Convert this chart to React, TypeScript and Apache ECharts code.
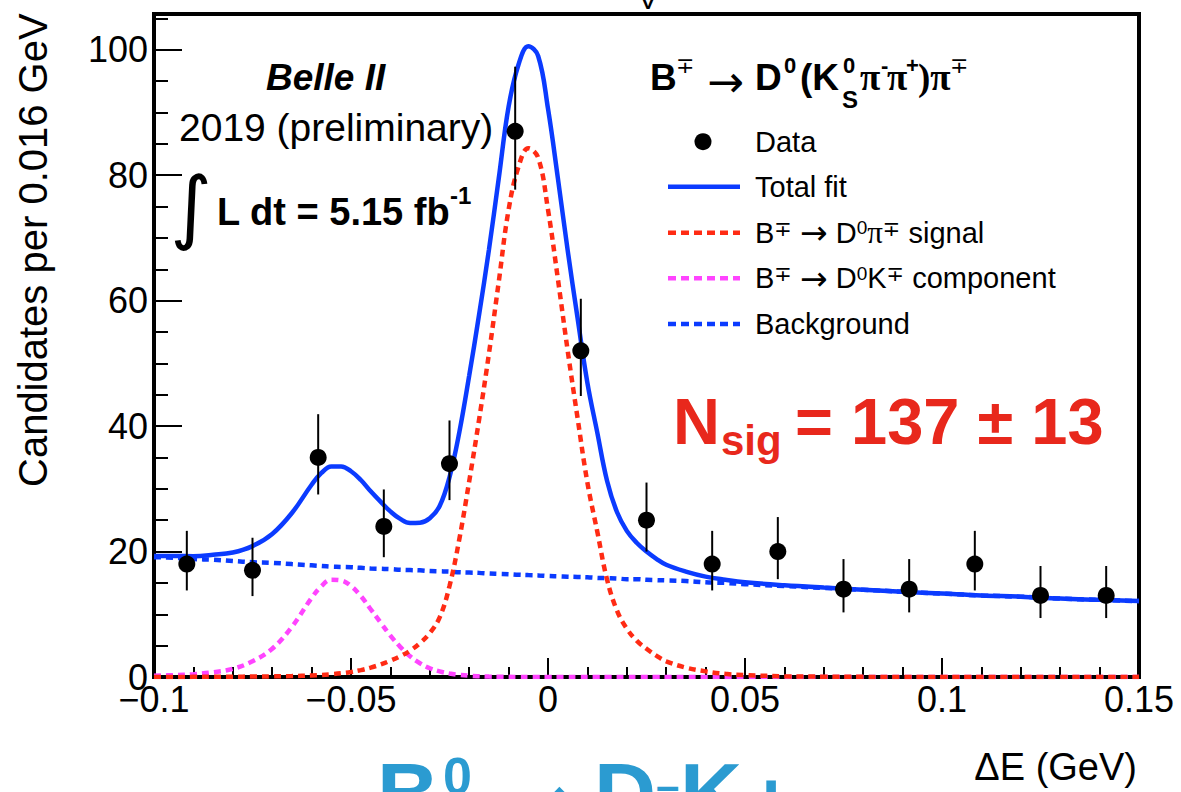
import React, { useEffect, useRef } from "react";
import * as echarts from "echarts";

// ---- measured data (ΔE bins, 15 bins from -0.1 to 0.15 GeV) ----
const binCenters = [
  -0.09167, -0.075, -0.05833, -0.04167, -0.025, -0.00833, 0.00833, 0.025,
  0.04167, 0.05833, 0.075, 0.09167, 0.10833, 0.125, 0.14167,
];
const counts = [18, 17, 35, 24, 34, 87, 52, 25, 18, 20, 14, 14, 18, 13, 13];
const errUp = [5.3, 5.2, 6.9, 5.9, 6.9, 10.3, 8.3, 6.0, 5.3, 5.5, 4.8, 4.8, 5.3, 4.7, 4.7];
const errDown = [4.2, 4.1, 5.9, 4.9, 5.8, 9.3, 7.2, 5.0, 4.2, 4.4, 3.7, 3.7, 4.2, 3.6, 3.6];

// ---- fit components sampled along ΔE ----
const fitX = [
  -0.1, -0.095, -0.09, -0.085, -0.08, -0.075, -0.07, -0.065, -0.06,
  -0.0575, -0.055, -0.0525, -0.05, -0.0475, -0.045, -0.0425, -0.04, -0.0375,
  -0.035, -0.0325, -0.03, -0.0275, -0.025, -0.0225, -0.02, -0.0175, -0.015,
  -0.0125, -0.01, -0.0075, -0.005, -0.0025, 0, 0.0025, 0.005, 0.0075, 0.01,
  0.0125, 0.015, 0.0175, 0.02, 0.0225, 0.025, 0.0275, 0.03,
  0.035, 0.04, 0.045, 0.05,
  0.06, 0.07, 0.08, 0.09, 0.1, 0.11, 0.12, 0.13, 0.14, 0.15,
];
const signalFit = [
  0, 0, 0.02, 0.03, 0.05, 0.07, 0.1, 0.15, 0.25,
  0.33, 0.45, 0.6, 0.8, 1.1, 1.5, 2.0, 2.6, 3.3,
  4.2, 5.4, 7.0, 9.5, 14.5, 22.0, 31.2, 41.0, 51.5,
  63.0, 74.5, 81.3, 84.3, 82.8, 74.5, 63.5, 52.0, 41.3, 31.0,
  23.2, 15.5, 10.6, 7.7, 5.8, 4.5, 3.4, 2.5,
  1.5, 0.9, 0.5, 0.3,
  0.12, 0.05, 0.02, 0, 0, 0, 0, 0, 0, 0,
];
const dkFit = [
  0.2, 0.3, 0.45, 0.75, 1.3, 2.5, 4.5, 8.0, 12.6,
  14.5, 15.5, 15.4, 14.5, 12.9, 10.8, 8.7, 6.6, 4.8,
  3.3, 2.2, 1.4, 0.9, 0.55, 0.35, 0.2, 0.12, 0.07,
  0.04, 0.02, 0.01, 0, 0, 0, 0, 0, 0, 0,
  0, 0, 0, 0, 0, 0, 0, 0,
  0, 0, 0, 0,
  0, 0, 0, 0, 0, 0, 0, 0, 0, 0,
];
const bkgFit = [
  19.1, 19.0, 18.8, 18.7, 18.5, 18.3, 18.2, 18.0, 17.8,
  17.7, 17.6, 17.55, 17.5, 17.4, 17.3, 17.25, 17.2, 17.1,
  17.05, 17.0, 16.9, 16.85, 16.8, 16.7, 16.65, 16.6, 16.5,
  16.45, 16.4, 16.3, 16.25, 16.2, 16.1, 16.05, 16.0, 15.95, 15.9,
  15.8, 15.75, 15.7, 15.6, 15.6, 15.5, 15.45, 15.4,
  15.3, 15.1, 15.0, 14.8,
  14.5, 14.2, 13.9, 13.6, 13.3, 13.0, 12.8, 12.5, 12.3, 12.1,
];

const FONT = "'Liberation Sans', Arial, 'DejaVu Sans', sans-serif";
const SERIF = "'Liberation Serif', 'DejaVu Serif', serif";
const SYM = "'DejaVu Sans', sans-serif";
const BLUE = "#0b3bff";
const RED = "#ff2b14";
const MAGENTA = "#ff44ff";
const NSIG = "#e8281c";
const HEADING = "#2b9bd1";

// text element placed by its alphabetic baseline
function txt(
  x: number,
  base: number,
  text: string,
  size: number,
  o: { bold?: boolean; italic?: boolean; color?: string; align?: string; family?: string } = {}
) {
  return {
    type: "text",
    x,
    y: base - 0.35 * size,
    silent: true,
    z: 100,
    style: {
      text,
      fontSize: size,
      fontFamily: o.family || FONT,
      fontWeight: o.bold ? "bold" : "normal",
      fontStyle: o.italic ? "italic" : "normal",
      fill: o.color || "#000",
      align: o.align || "left",
      verticalAlign: "middle",
    },
  };
}

function richRow(x: number, cy: number, text: string) {
  return {
    type: "text",
    x,
    y: cy,
    silent: true,
    z: 100,
    style: {
      text,
      fontSize: 29,
      lineHeight: 29,
      fontFamily: FONT,
      fill: "#000",
      align: "left",
      verticalAlign: "middle",
      rich: {
        s: { fontSize: 19, lineHeight: 19, verticalAlign: "top", fontFamily: FONT, fill: "#000" },
        a: { fontSize: 33, lineHeight: 29, fontFamily: SYM, fill: "#000" },
        p: { fontSize: 31, lineHeight: 29, fontFamily: SERIF, fill: "#000" },
        ps: { fontSize: 21, lineHeight: 19, verticalAlign: "top", fontFamily: SYM, fill: "#000" },
      },
    },
  };
}

function legendLine(y: number, color: string, dashed: boolean) {
  return {
    type: "line",
    silent: true,
    z: 100,
    shape: { x1: 668, y1: y, x2: 740, y2: y },
    style: { stroke: color, lineWidth: 4.5, lineDash: dashed ? [8, 5] : null, lineCap: "butt" },
  };
}

export default function App() {
  const ref = useRef<HTMLDivElement>(null);

  useEffect(() => {
    if (!ref.current) return;
    const chart = echarts.init(ref.current, undefined, { renderer: "svg" });

    const pairs = (ys: number[]) => fitX.map((x, i) => [x, ys[i]]);
    const totalFit = fitX.map((x, i) => [x, signalFit[i] + dkFit[i] + bkgFit[i]]);

    const fmtX = (v: number) => String(Math.round(v * 1000) / 1000).replace("-", "\u2212");
    const fmtY = (v: number) => (Math.abs(v - Math.round(v / 20) * 20) < 1e-6 ? String(Math.round(v)) : "");

    const graphic: any[] = [
      // y-axis title
      {
        type: "text",
        x: 33,
        y: 487,
        rotation: Math.PI / 2,
        silent: true,
        style: {
          text: "Candidates per 0.016 GeV",
          fontSize: 40,
          fontFamily: FONT,
          fill: "#000",
          align: "left",
          verticalAlign: "middle",
        },
      },
      // x-axis title
      txt(1137, 780, "\u0394E (GeV)", 38, { align: "right" }),
      // text cut off at the top edge
      txt(648, 9, "V", 30, { align: "center" }),

      // experiment labels
      txt(266, 90, "Belle II", 37, { bold: true, italic: true }),
      txt(179, 141, "2019 (preliminary)", 39),
      {
        type: "text",
        x: 191,
        y: 206,
        silent: true,
        style: {
          text: "\u222B",
          fontSize: 80,
          fontFamily: SYM,
          fill: "#000",
          align: "center",
          verticalAlign: "middle",
        },
      },
      txt(217, 225, "L dt = 5.15 fb", 38, { bold: true }),
      txt(450, 204, "-1", 24, { bold: true }),

      // decay title
      txt(650, 90, "B", 37, { bold: true }),
      txt(676, 73, "\u2213", 22, { family: SYM }),
      txt(707, 97, "\u2192", 44, { family: SYM }),
      txt(755, 90, "D", 37, { bold: true }),
      txt(784, 73, "0", 22, { bold: true }),
      txt(800, 90, "(K", 37, { bold: true }),
      txt(843, 73, "0", 22, { bold: true }),
      txt(842, 108, "S", 24, { bold: true }),
      txt(860, 90, "\u03C0", 37, { bold: true, family: SERIF }),
      txt(881, 73, "-", 22, { bold: true }),
      txt(887, 90, "\u03C0", 37, { bold: true, family: SERIF }),
      txt(906, 73, "+", 22, { bold: true }),
      txt(918, 90, ")\u03C0", 37, { bold: true, family: SERIF }),
      txt(950, 73, "\u2213", 22, { family: SYM }),

      // legend
      {
        type: "circle",
        silent: true,
        z: 100,
        shape: { cx: 703, cy: 141.7, r: 8.5 },
        style: { fill: "#000" },
      },
      legendLine(186.7, BLUE, false),
      legendLine(232.7, RED, true),
      legendLine(278.3, MAGENTA, true),
      legendLine(324, BLUE, true),
      richRow(755, 141.7, "Data"),
      richRow(755, 186.7, "Total fit"),
      richRow(755, 232.7, "B{ps|\u2213} {a|\u2192} D{s|0}{p|\u03C0}{ps|\u2213} signal"),
      richRow(755, 278.3, "B{ps|\u2213} {a|\u2192} D{s|0}K{ps|\u2213} component"),
      richRow(755, 324, "Background"),

      // signal yield
      txt(673, 444, "N", 65, { bold: true, color: NSIG }),
      txt(721, 455, "sig", 42, { bold: true, color: NSIG }),
      txt(795, 444, "= 137 \u00B1 13", 65, { bold: true, color: NSIG }),

      // slide heading cut by the bottom edge
      txt(377, 823, "B", 86, { bold: true, color: HEADING }),
      txt(443, 794, "0", 52, { bold: true, color: HEADING }),
      txt(508, 832, "\u2192", 86, { color: HEADING, family: SYM }),
      txt(594, 823, "D", 86, { bold: true, color: HEADING }),
      txt(656, 800, "\u2013", 42, { bold: true, color: HEADING }),
      txt(680, 823, "K", 86, { bold: true, color: HEADING }),
      txt(746, 831, "+", 86, { bold: true, color: HEADING }),
    ];

    const frame = { show: true, onZero: false, lineStyle: { color: "#000", width: 4 } };

    chart.setOption({
      animation: false,
      grid: {
        left: 154,
        top: 14,
        width: 985,
        height: 663,
        show: true,
        borderColor: "#000",
        borderWidth: 4,
      },
      xAxis: {
        type: "value",
        min: -0.1,
        max: 0.15,
        interval: 0.05,
        axisLine: frame,
        axisTick: { show: true, inside: true, length: 19, lineStyle: { color: "#000", width: 2 } },
        minorTick: { show: true, splitNumber: 5, length: 10, lineStyle: { color: "#000", width: 2 } },
        splitLine: { show: false },
        axisLabel: {
          show: true,
          formatter: fmtX,
          fontSize: 36,
          fontFamily: FONT,
          color: "#000",
          margin: 4,
        },
      },
      yAxis: {
        type: "value",
        min: 0,
        max: 105.7,
        interval: 20,
        axisLine: frame,
        axisTick: { show: true, inside: true, length: 28, lineStyle: { color: "#000", width: 2 } },
        minorTick: { show: true, splitNumber: 4, length: 14, lineStyle: { color: "#000", width: 2 } },
        splitLine: { show: false },
        axisLabel: {
          show: true,
          formatter: fmtY,
          fontSize: 36,
          fontFamily: FONT,
          color: "#000",
          margin: 6,
        },
      },
      series: [
        {
          name: "Background",
          type: "line",
          data: pairs(bkgFit),
          symbol: "none",
          smooth: 0.4,
          lineStyle: { color: BLUE, width: 4.5, type: [7, 5], cap: "butt" },
          z: 2,
        },
        {
          name: "B\u2213 \u2192 D0K\u2213 component",
          type: "line",
          data: pairs(dkFit),
          symbol: "none",
          smooth: 0.4,
          lineStyle: { color: MAGENTA, width: 4.5, type: [7, 5], cap: "butt" },
          z: 2,
        },
        {
          name: "B\u2213 \u2192 D0\u03C0\u2213 signal",
          type: "line",
          data: pairs(signalFit),
          symbol: "none",
          smooth: 0.4,
          lineStyle: { color: RED, width: 4.5, type: [7, 5], cap: "butt" },
          z: 3,
        },
        {
          name: "Total fit",
          type: "line",
          data: totalFit,
          symbol: "none",
          smooth: 0.4,
          lineStyle: { color: BLUE, width: 4.5 },
          z: 4,
        },
        {
          name: "Data errors",
          type: "custom",
          data: binCenters.map((x, i) => [x, counts[i] - errDown[i], counts[i] + errUp[i]]),
          encode: { x: 0, y: [1, 2] },
          renderItem: (_params: any, api: any) => {
            const x = api.value(0);
            const p1 = api.coord([x, api.value(1)]);
            const p2 = api.coord([x, api.value(2)]);
            return {
              type: "line",
              shape: { x1: p1[0], y1: p1[1], x2: p2[0], y2: p2[1] },
              style: { stroke: "#000", lineWidth: 2 },
            };
          },
          z: 5,
        },
        {
          name: "Data",
          type: "scatter",
          data: binCenters.map((x, i) => [x, counts[i]]),
          symbol: "circle",
          symbolSize: 17,
          itemStyle: { color: "#000", opacity: 1 },
          z: 6,
        },
      ],
      graphic,
    });

    return () => chart.dispose();
  }, []);

  return (
    <div
      ref={ref}
      style={{ position: "fixed", left: 0, top: 0, width: 1181, height: 792, background: "#fff" }}
    />
  );
}
